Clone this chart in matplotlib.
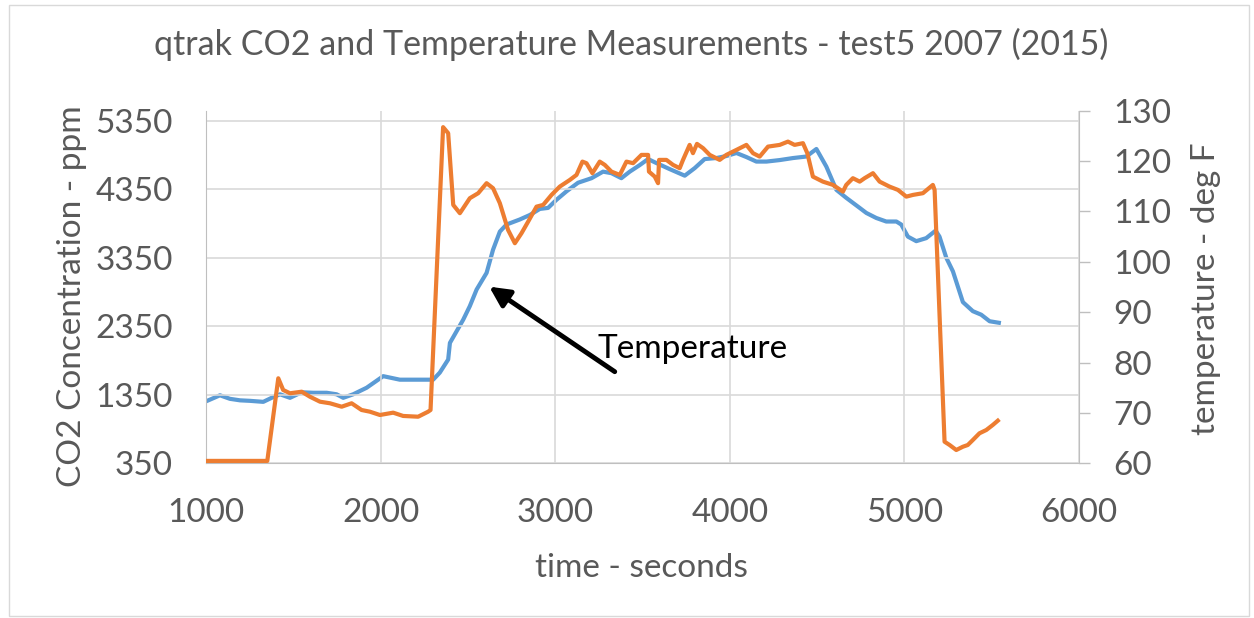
import matplotlib
matplotlib.use("Agg")
import matplotlib.pyplot as plt
from matplotlib.patches import Rectangle

plt.rcParams['font.family'] = ['Lato', 'DejaVu Sans']

# CO2 concentration (ppm)
co2_time = [1000, 1351, 1414, 1442, 1481, 1548, 1595, 1653, 1710, 1777, 1834, 1891,
            1939, 1996, 2072, 2129, 2215, 2272, 2286, 2358, 2387, 2416, 2454, 2511,
            2559, 2607, 2644, 2683, 2730, 2769, 2807, 2845, 2893, 2931, 2979, 3026,
            3084, 3122, 3156, 3179, 3213, 3255, 3284, 3322, 3370, 3408, 3446, 3494,
            3532, 3537, 3570, 3589, 3595, 3637, 3675, 3713, 3732, 3770, 3789, 3812,
            3847, 3885, 3942, 3980, 4038, 4095, 4133, 4171, 4219, 4286, 4333, 4371,
            4419, 4444, 4476, 4533, 4591, 4648, 4667, 4705, 4744, 4772, 4820, 4858,
            4915, 4963, 5011, 5049, 5106, 5163, 5173, 5230, 5259, 5297, 5335, 5363,
            5392, 5430, 5469, 5506, 5535]
co2_ppm = [385, 385, 1591, 1420, 1372, 1395, 1322, 1249, 1226, 1176, 1226, 1128,
           1103, 1055, 1089, 1041, 1030, 1103, 1128, 5256, 5168, 4121, 4000, 4219,
           4292, 4438, 4365, 4146, 3756, 3562, 3708, 3877, 4096, 4121, 4267, 4388,
           4486, 4559, 4753, 4730, 4584, 4753, 4705, 4607, 4559, 4753, 4730, 4851,
           4851, 4607, 4534, 4438, 4778, 4778, 4705, 4657, 4778, 4997, 4876, 5012,
           4949, 4851, 4778, 4851, 4924, 4997, 4876, 4826, 4972, 4997, 5045, 4997,
           5022, 4876, 4534, 4461, 4413, 4315, 4413, 4511, 4461, 4511, 4584, 4461,
           4388, 4340, 4242, 4267, 4292, 4413, 4340, 665, 617, 544, 592, 617,
           690, 788, 836, 909, 972]

# temperature (deg F)
temp_time = [1000, 1080, 1137, 1195, 1252, 1328, 1376, 1424, 1481, 1548, 1614, 1691,
             1748, 1786, 1843, 1920, 2015, 2110, 2206, 2301, 2339, 2387, 2397, 2473,
             2511, 2550, 2607, 2644, 2683, 2721, 2797, 2855, 2912, 2959, 3007, 3065,
             3131, 3208, 3274, 3322, 3379, 3427, 3484, 3532, 3580, 3656, 3742, 3799,
             3856, 3923, 3980, 4038, 4095, 4152, 4210, 4286, 4362, 4438, 4496, 4553,
             4610, 4667, 4744, 4782, 4839, 4896, 4954, 4982, 5020, 5068, 5125, 5179,
             5201, 5240, 5278, 5335, 5392, 5440, 5488, 5541]
temp_f = [72.3, 73.5, 72.8, 72.5, 72.4, 72.2, 73.0, 73.7, 73.0, 74.1, 74.0, 74.0,
          73.7, 73.0, 73.7, 75.0, 77.3, 76.6, 76.6, 76.6, 78.0, 80.6, 83.9, 88.5,
          91.2, 94.5, 97.8, 102.4, 106.0, 107.4, 108.4, 109.3, 110.5, 110.7, 112.3, 114.0,
          115.7, 116.6, 117.9, 117.6, 116.6, 117.9, 119.2, 120.4, 119.6, 118.4, 117.1, 118.6,
          120.4, 120.6, 121.0, 121.6, 120.8, 119.9, 119.9, 120.2, 120.6, 120.9, 122.4, 118.9,
          114.3, 112.7, 110.7, 109.7, 108.7, 108.0, 108.0, 107.4, 105.0, 104.1, 104.7, 106.2,
          105.0, 100.8, 98.1, 92.0, 90.2, 89.5, 88.2, 87.9]

x_ticks = [1000, 2000, 3000, 4000, 5000, 6000]
co2_ticks = [350, 1350, 2350, 3350, 4350, 5350]
temp_ticks = [60, 70, 80, 90, 100, 110, 120, 130]

# annotation arrow (time, ppm)
arrow_tip = (2622, 2928)
arrow_tail = (3341, 1687)
label_pos = (3244, 1890)

grey_txt = '#595959'
grid_c = '#D9D9D9'
axis_c = '#BFBFBF'
fs = 24

fig = plt.figure(figsize=(12.54, 6.18), dpi=100)
fig.patches.append(Rectangle((9/1254, 1 - 616/618), 1240/1254, 611/618,
                             transform=fig.transFigure, fill=False,
                             edgecolor='#D9D9D9', lw=1))

ax = fig.add_axes([206/1254, 1 - 463.3/618, 873/1254, 352.6/618])
ax2 = ax.twinx()

ax.set_xlim(1000, 6000)
ax.set_ylim(350, 5496)
ax2.set_ylim(60, 130)

ax.set_xticks(x_ticks)
ax.set_yticks(co2_ticks)
ax2.set_yticks(temp_ticks)

for a in (ax, ax2):
    for s in a.spines.values():
        s.set_visible(False)
ax.spines['left'].set_visible(True)
ax.spines['bottom'].set_visible(True)
ax.spines['left'].set_color(axis_c)
ax.spines['bottom'].set_color(axis_c)
ax2.spines['right'].set_visible(True)
ax2.spines['right'].set_color(axis_c)

ax.tick_params(axis='y', length=0, pad=24, labelsize=fs, labelcolor=grey_txt)
ax.tick_params(axis='x', length=0, pad=25, labelsize=fs, labelcolor=grey_txt)
ax2.tick_params(axis='y', length=8, width=1, color=axis_c, pad=17,
                labelsize=fs, labelcolor=grey_txt)

ax2.plot(temp_time, temp_f, color='#5B9BD5', lw=3.0, solid_joinstyle='round', zorder=3)
ax.plot(co2_time, co2_ppm, color='#ED7D31', lw=3.0, solid_joinstyle='round', zorder=3)

# blue twin goes underneath, white patch behind everything, grid on the top axes
ax2.set_zorder(ax.get_zorder() - 1)
ax.patch.set_visible(False)
ax2.patch.set_facecolor('white')
ax.grid(True, color=grid_c, lw=1.2)
ax.set_axisbelow(True)

ax.annotate('', xy=arrow_tip, xytext=arrow_tail,
            arrowprops=dict(arrowstyle='-|>', color='black', lw=3.5,
                            mutation_scale=30, shrinkA=0, shrinkB=0))
ax.text(label_pos[0], label_pos[1], 'Temperature', fontsize=fs, color='black',
        va='baseline', ha='left')

fig.text(631/1254, 1 - 55/618, 'qtrak CO2 and Temperature Measurements - test5 2007 (2015)',
         ha='center', va='baseline', fontsize=24.5, color=grey_txt)
fig.text(641/1254, 1 - 577/618, 'time - seconds', ha='center', va='baseline',
         fontsize=fs, color=grey_txt)
fig.text(72/1254, 1 - 296/618, 'CO2 Concentration - ppm', rotation=90,
         ha='center', va='center', fontsize=fs, color=grey_txt)
fig.text(1206/1254, 1 - 288.5/618, 'temperature - deg F', rotation=90,
         ha='center', va='center', fontsize=fs, color=grey_txt)

fig.savefig('out.png', dpi=100)
